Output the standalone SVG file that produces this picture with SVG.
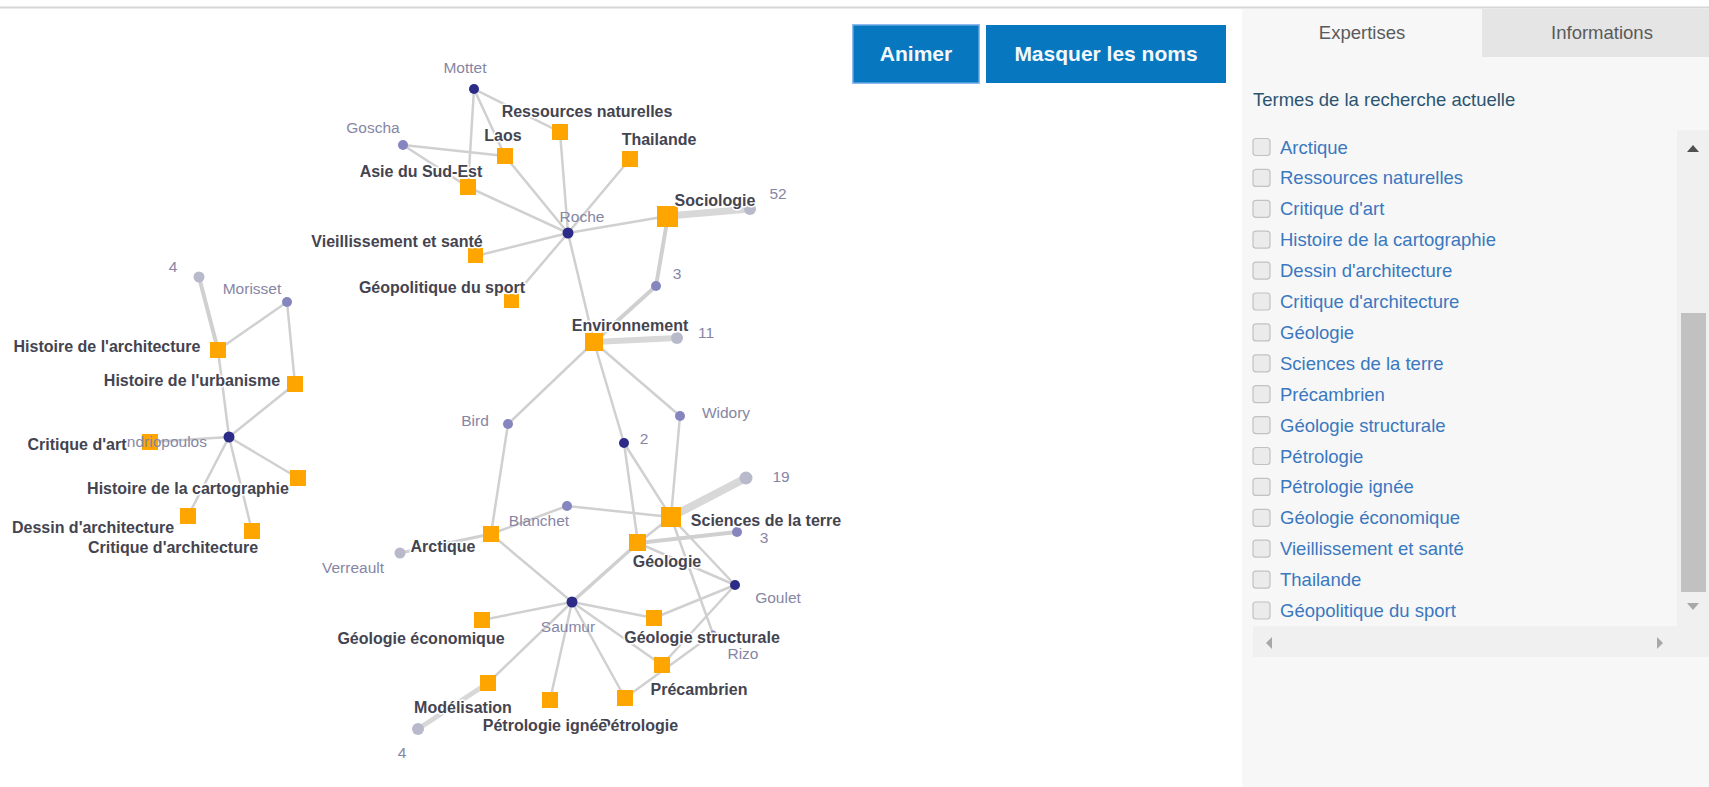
<svg xmlns="http://www.w3.org/2000/svg" width="1709" height="787" viewBox="0 0 1709 787">
<defs>
<style>
.l{stroke:#d0d0d0;stroke-width:2.5;stroke-linecap:round;fill:none}
.t{fill:#ffa500}
.dk{fill:#2c2c88}
.md{fill:#8585bf}
.lt{fill:#b9b9cc}
.lb{font-family:"Liberation Sans",Arial,sans-serif;font-weight:bold;font-size:16px;fill:#444450;stroke:#fff;stroke-width:3;stroke-linejoin:round;paint-order:stroke;text-anchor:middle}
.pl{font-family:"Liberation Sans",Arial,sans-serif;font-size:15.5px;fill:#8686a4;text-anchor:middle}
.btn{fill:#0778bf}
.bt{font-family:"Liberation Sans",Arial,sans-serif;font-weight:bold;font-size:21px;fill:#f4f8fc;text-anchor:middle}
.tab{font-family:"Liberation Sans",Arial,sans-serif;font-size:18.5px;fill:#5a5a5a;text-anchor:middle}
.it{font-family:"Liberation Sans",Arial,sans-serif;font-size:18.5px;fill:#3a78c0}
.cb{fill:#ebebeb;stroke:#c2c2c2;stroke-width:1.2}
</style>
</defs>
<rect x="0" y="0" width="1709" height="787" fill="#ffffff"/>
<line x1="0" y1="7.5" x2="1709" y2="7.5" stroke="#d6d6d6" stroke-width="2"/>

<g id="connectors">
<line class="l" x1="474" y1="89" x2="505" y2="156"/>
<line class="l" x1="474" y1="89" x2="560" y2="132"/>
<line class="l" x1="474" y1="89" x2="468" y2="187"/>
<line class="l" x1="403" y1="145" x2="505" y2="156"/>
<line class="l" x1="403" y1="145" x2="468" y2="187"/>
<line class="l" x1="505" y1="156" x2="568" y2="233"/>
<line class="l" x1="560" y1="132" x2="568" y2="233"/>
<line class="l" x1="630" y1="159" x2="568" y2="233"/>
<line class="l" x1="468" y1="187" x2="568" y2="233"/>
<line class="l" x1="668" y1="216" x2="568" y2="233"/>
<line class="l" x1="476" y1="256" x2="568" y2="233"/>
<line class="l" x1="511" y1="300" x2="568" y2="233"/>
<line class="l" x1="568" y1="233" x2="594" y2="342"/>
<line class="l" x1="668" y1="216" x2="750" y2="209" style="stroke-width:7;stroke:#d8d8d8"/>
<line class="l" x1="668" y1="216" x2="656" y2="286" style="stroke-width:4"/>
<line class="l" x1="656" y1="286" x2="594" y2="342" style="stroke-width:4"/>
<line class="l" x1="594" y1="342" x2="677" y2="338" style="stroke-width:6;stroke:#d8d8d8"/>
<line class="l" x1="594" y1="342" x2="508" y2="424"/>
<line class="l" x1="594" y1="342" x2="624" y2="443"/>
<line class="l" x1="594" y1="342" x2="680" y2="416"/>
<line class="l" x1="508" y1="424" x2="491" y2="534"/>
<line class="l" x1="680" y1="416" x2="671" y2="517"/>
<line class="l" x1="624" y1="443" x2="671" y2="517"/>
<line class="l" x1="624" y1="443" x2="638" y2="543"/>
<line class="l" x1="671" y1="517" x2="746" y2="478" style="stroke-width:8;stroke:#d8d8d8"/>
<line class="l" x1="567" y1="506" x2="671" y2="517"/>
<line class="l" x1="567" y1="506" x2="491" y2="534"/>
<line class="l" x1="491" y1="534" x2="400" y2="553" style="stroke-width:3"/>
<line class="l" x1="491" y1="534" x2="572" y2="602"/>
<line class="l" x1="638" y1="543" x2="737" y2="532" style="stroke-width:4"/>
<line class="l" x1="671" y1="517" x2="638" y2="543"/>
<line class="l" x1="671" y1="517" x2="735" y2="585"/>
<line class="l" x1="671" y1="517" x2="713" y2="634"/>
<line class="l" x1="638" y1="543" x2="735" y2="585"/>
<line class="l" x1="638" y1="543" x2="572" y2="602" style="stroke-width:3.5"/>
<line class="l" x1="735" y1="585" x2="654" y2="618"/>
<line class="l" x1="735" y1="585" x2="662" y2="665"/>
<line class="l" x1="572" y1="602" x2="482" y2="620"/>
<line class="l" x1="572" y1="602" x2="654" y2="618"/>
<line class="l" x1="572" y1="602" x2="662" y2="665"/>
<line class="l" x1="572" y1="602" x2="488" y2="683"/>
<line class="l" x1="572" y1="602" x2="550" y2="700"/>
<line class="l" x1="572" y1="602" x2="625" y2="698"/>
<line class="l" x1="625" y1="698" x2="713" y2="634"/>
<line class="l" x1="488" y1="683" x2="418" y2="729" style="stroke-width:5;stroke:#d8d8d8"/>
<line class="l" x1="199" y1="277" x2="218" y2="350" style="stroke-width:4"/>
<line class="l" x1="287" y1="302" x2="218" y2="350"/>
<line class="l" x1="287" y1="302" x2="295" y2="384"/>
<line class="l" x1="218" y1="350" x2="229" y2="437"/>
<line class="l" x1="295" y1="384" x2="229" y2="437"/>
<line class="l" x1="229" y1="437" x2="150" y2="442"/>
<line class="l" x1="229" y1="437" x2="298" y2="478"/>
<line class="l" x1="229" y1="437" x2="188" y2="516"/>
<line class="l" x1="229" y1="437" x2="252" y2="531"/>
</g>

<g id="n-mottet"><circle class="dk" cx="474" cy="89" r="5"/></g>
<g id="n-goscha"><circle class="md" cx="403" cy="145" r="5"/></g>
<g id="n-roche"><circle class="dk" cx="568" cy="233" r="5.5"/></g>
<g id="n-52"><circle class="lt" cx="750" cy="209" r="6"/></g>
<g id="n-3a"><circle class="md" cx="656" cy="286" r="5"/></g>
<g id="n-11"><circle class="lt" cx="677" cy="338" r="6"/></g>
<g id="n-bird"><circle class="md" cx="508" cy="424" r="5"/></g>
<g id="n-widory"><circle class="md" cx="680" cy="416" r="5"/></g>
<g id="n-2"><circle class="dk" cx="624" cy="443" r="5"/></g>
<g id="n-19"><circle class="lt" cx="746" cy="478" r="6.5"/></g>
<g id="n-blanchet"><circle class="md" cx="567" cy="506" r="5"/></g>
<g id="n-3b"><circle class="md" cx="737" cy="532" r="5"/></g>
<g id="n-verreault"><circle class="lt" cx="400" cy="553" r="5.5"/></g>
<g id="n-saumur"><circle class="dk" cx="572" cy="602" r="5.5"/></g>
<g id="n-goulet"><circle class="dk" cx="735" cy="585" r="5"/></g>
<g id="n-rizo"><circle class="md" cx="713" cy="634" r="3.5"/></g>
<g id="n-4b"><circle class="lt" cx="418" cy="729" r="6"/></g>
<g id="n-4a"><circle class="lt" cx="199" cy="277" r="5.5"/></g>
<g id="n-morisset"><circle class="md" cx="287" cy="302" r="5"/></g>
<g id="n-ndriopoulos"><circle class="dk" cx="229" cy="437" r="5.5"/></g>

<g id="t-laos"><rect class="t" x="497" y="148" width="16" height="16"/></g>
<g id="t-ressources"><rect class="t" x="552" y="124" width="16" height="16"/></g>
<g id="t-thailande"><rect class="t" x="622" y="151" width="16" height="16"/></g>
<g id="t-asie"><rect class="t" x="460" y="179" width="16" height="16"/></g>
<g id="t-sociologie"><rect class="t" x="657" y="206" width="21" height="21"/></g>
<g id="t-vieillissement"><rect class="t" x="468" y="248" width="15" height="15"/></g>
<g id="t-geopolitique"><rect class="t" x="504" y="294" width="15" height="14"/></g>
<g id="t-environnement"><rect class="t" x="585" y="333" width="18" height="18"/></g>
<g id="t-sciences"><rect class="t" x="661" y="507" width="20" height="20"/></g>
<g id="t-arctique"><rect class="t" x="483" y="526" width="16" height="16"/></g>
<g id="t-geologie"><rect class="t" x="629" y="534" width="17" height="17"/></g>
<g id="t-geoeco"><rect class="t" x="474" y="612" width="16" height="16"/></g>
<g id="t-geostruct"><rect class="t" x="646" y="610" width="16" height="16"/></g>
<g id="t-precambrien"><rect class="t" x="654" y="657" width="16" height="16"/></g>
<g id="t-modelisation"><rect class="t" x="480" y="675" width="16" height="16"/></g>
<g id="t-petroignee"><rect class="t" x="542" y="692" width="16" height="16"/></g>
<g id="t-petrologie"><rect class="t" x="617" y="690" width="16" height="16"/></g>
<g id="t-histarchi"><rect class="t" x="210" y="342" width="16" height="16"/></g>
<g id="t-histurb"><rect class="t" x="287" y="376" width="16" height="16"/></g>
<g id="t-critart"><rect class="t" x="142" y="434" width="16" height="16"/></g>
<g id="t-histcarto"><rect class="t" x="290" y="470" width="16" height="16"/></g>
<g id="t-dessin"><rect class="t" x="180" y="508" width="16" height="16"/></g>
<g id="t-critarchi"><rect class="t" x="244" y="523" width="16" height="16"/></g>

<g id="person-labels">
<text class="pl" x="465" y="73">Mottet</text>
<text class="pl" x="373" y="133">Goscha</text>
<text class="pl" x="582" y="222">Roche</text>
<text class="pl" x="778" y="199">52</text>
<text class="pl" x="677" y="279">3</text>
<text class="pl" x="706" y="338">11</text>
<text class="pl" x="475" y="426">Bird</text>
<text class="pl" x="726" y="418">Widory</text>
<text class="pl" x="644" y="444">2</text>
<text class="pl" x="781" y="482">19</text>
<text class="pl" x="539" y="526">Blanchet</text>
<text class="pl" x="764" y="543">3</text>
<text class="pl" x="353" y="573">Verreault</text>
<text class="pl" x="568" y="632">Saumur</text>
<text class="pl" x="778" y="603">Goulet</text>
<text class="pl" x="743" y="659">Rizo</text>
<text class="pl" x="402" y="758">4</text>
<text class="pl" x="173" y="272">4</text>
<text class="pl" x="252" y="294">Morisset</text>
<text class="pl" x="207" y="447" style="text-anchor:end">ndriopoulos</text>
</g>

<g id="term-labels">
<text class="lb" x="587" y="117">Ressources naturelles</text>
<text class="lb" x="503" y="141">Laos</text>
<text class="lb" x="659" y="145">Thailande</text>
<text class="lb" x="421" y="177">Asie du Sud-Est</text>
<text class="lb" x="715" y="206">Sociologie</text>
<text class="lb" x="397" y="247">Vieillissement et santé</text>
<text class="lb" x="442" y="293">Géopolitique du sport</text>
<text class="lb" x="630" y="331">Environnement</text>
<text class="lb" x="107" y="352">Histoire de l'architecture</text>
<text class="lb" x="192" y="386">Histoire de l'urbanisme</text>
<text class="lb" x="77" y="450">Critique d'art</text>
<text class="lb" x="188" y="494">Histoire de la cartographie</text>
<text class="lb" x="93" y="533">Dessin d'architecture</text>
<text class="lb" x="173" y="553">Critique d'architecture</text>
<text class="lb" x="766" y="526">Sciences de la terre</text>
<text class="lb" x="443" y="552">Arctique</text>
<text class="lb" x="667" y="567">Géologie</text>
<text class="lb" x="421" y="644">Géologie économique</text>
<text class="lb" x="702" y="643">Géologie structurale</text>
<text class="lb" x="699" y="695">Précambrien</text>
<text class="lb" x="463" y="713">Modélisation</text>
<text class="lb" x="639" y="731">Pétrologie</text>
<text class="lb" x="545" y="731">Pétrologie ignée</text>
</g>

<g id="btn-animer">
<rect x="852" y="24" width="128" height="60" fill="#8fbaf0"/>
<rect class="btn" x="853.5" y="25.5" width="125" height="57"/>
<text class="bt" x="916" y="61">Animer</text>
</g>
<g id="btn-masquer">
<rect class="btn" x="986" y="25" width="240" height="58"/>
<text class="bt" x="1106" y="61">Masquer les noms</text>
</g>

<g id="sidebar">
<rect x="1242" y="9" width="467" height="778" fill="#f7f7f7"/>
<rect x="1482" y="9" width="227" height="48" fill="#e5e5e5"/>
<text class="tab" x="1362" y="39">Expertises</text>
<text class="tab" x="1602" y="39">Informations</text>
<text x="1253" y="106" font-family="'Liberation Sans',Arial,sans-serif" font-size="18.5" fill="#2c5470">Termes de la recherche actuelle</text>

<rect x="1677" y="130" width="32" height="496" fill="#f0f0f0"/>
<polygon points="1687,152 1699,152 1693,145" fill="#505050"/>
<rect x="1681" y="313" width="25" height="279" fill="#c1c1c1"/>
<polygon points="1687,603 1699,603 1693,610" fill="#a8a8a8"/>
<rect x="1253" y="626" width="456" height="31" fill="#f0f0f0"/>
<polygon points="1272,637 1272,649 1266,643" fill="#a8a8a8"/>
<polygon points="1657,637 1657,649 1663,643" fill="#a8a8a8"/>

<g id="list">
<rect class="cb" x="1253" y="138.5" width="17" height="17" rx="3"/><text class="it" x="1280" y="153.5">Arctique</text>
<rect class="cb" x="1253" y="169.4" width="17" height="17" rx="3"/><text class="it" x="1280" y="184.4">Ressources naturelles</text>
<rect class="cb" x="1253" y="200.3" width="17" height="17" rx="3"/><text class="it" x="1280" y="215.3">Critique d'art</text>
<rect class="cb" x="1253" y="231.2" width="17" height="17" rx="3"/><text class="it" x="1280" y="246.2">Histoire de la cartographie</text>
<rect class="cb" x="1253" y="262.1" width="17" height="17" rx="3"/><text class="it" x="1280" y="277.1">Dessin d'architecture</text>
<rect class="cb" x="1253" y="293" width="17" height="17" rx="3"/><text class="it" x="1280" y="308">Critique d'architecture</text>
<rect class="cb" x="1253" y="323.9" width="17" height="17" rx="3"/><text class="it" x="1280" y="338.9">Géologie</text>
<rect class="cb" x="1253" y="354.8" width="17" height="17" rx="3"/><text class="it" x="1280" y="369.8">Sciences de la terre</text>
<rect class="cb" x="1253" y="385.7" width="17" height="17" rx="3"/><text class="it" x="1280" y="400.7">Précambrien</text>
<rect class="cb" x="1253" y="416.6" width="17" height="17" rx="3"/><text class="it" x="1280" y="431.6">Géologie structurale</text>
<rect class="cb" x="1253" y="447.5" width="17" height="17" rx="3"/><text class="it" x="1280" y="462.5">Pétrologie</text>
<rect class="cb" x="1253" y="478.4" width="17" height="17" rx="3"/><text class="it" x="1280" y="493.4">Pétrologie ignée</text>
<rect class="cb" x="1253" y="509.3" width="17" height="17" rx="3"/><text class="it" x="1280" y="524.3">Géologie économique</text>
<rect class="cb" x="1253" y="540.2" width="17" height="17" rx="3"/><text class="it" x="1280" y="555.2">Vieillissement et santé</text>
<rect class="cb" x="1253" y="571.1" width="17" height="17" rx="3"/><text class="it" x="1280" y="586.1">Thailande</text>
<rect class="cb" x="1253" y="602" width="17" height="17" rx="3"/><text class="it" x="1280" y="617">Géopolitique du sport</text>
</g>
</g>
</svg>
